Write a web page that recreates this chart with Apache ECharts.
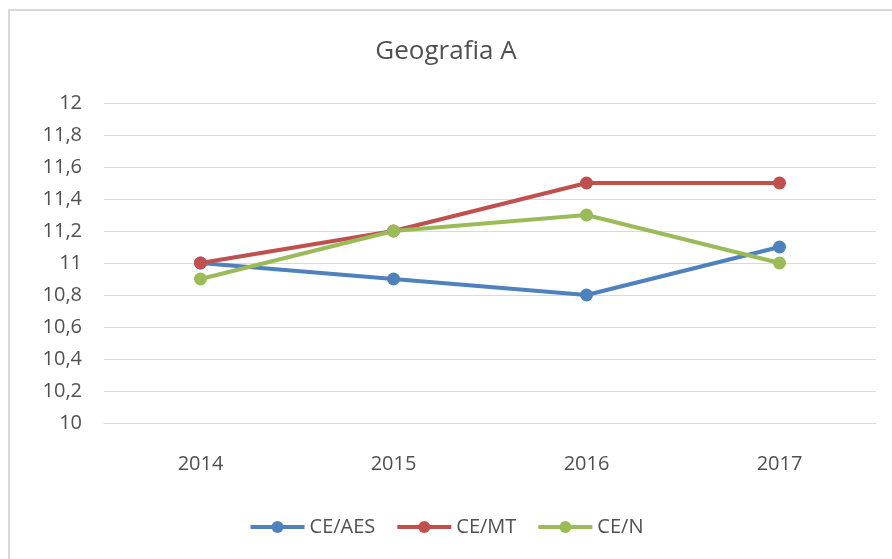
<!DOCTYPE html>
<html>
<head>
<meta charset="utf-8">
<script src="https://cdn.jsdelivr.net/npm/echarts@6/dist/echarts.min.js"></script>
<style>
  html, body { margin: 0; padding: 0; background: #fff; }
  #frame { position: absolute; left: 8px; top: 9px; width: 900px; height: 560px; border: 2px solid #d9d9d9; box-sizing: border-box; }
  #chart { position: absolute; left: 0; top: 0; width: 892px; height: 559px; }
</style>
</head>
<body>
<div id="frame"></div>
<div id="chart"></div>
<script>
// anni e serie
var years = ['2014', '2015', '2016', '2017'];
var ceAes = [11, 10.9, 10.8, 11.1];
var ceMt = [11, 11.2, 11.5, 11.5];
var ceN = [10.9, 11.2, 11.3, 11.0];

var chart = echarts.init(document.getElementById('chart'));

function makeSeries(name, data, color) {
    return {
        name: name,
        type: 'line',
        data: data,
        symbol: 'circle',
        symbolSize: 13,
        lineStyle: { width: 4, color: color },
        itemStyle: { color: color },
        emphasis: { disabled: true }
    };
}

var option = {
    backgroundColor: 'transparent',
    animation: false,
    textStyle: { fontFamily: 'Open Sans' },
    title: {
        text: 'Geografia A',
        left: 'center',
        top: 34,
        textStyle: { fontSize: 26, fontWeight: 'normal', color: '#505050', fontFamily: 'Open Sans' }
    },
    legend: {
        bottom: 17,
        left: 'center',
        itemWidth: 54,
        itemHeight: 15,
        itemGap: 20,
        lineStyle: { width: 4 },
        textStyle: { fontSize: 20, color: '#505050' },
        data: ['CE/AES', 'CE/MT', 'CE/N']
    },
    grid: { left: 104, right: 16, top: 103, bottom: 136 },
    xAxis: {
        type: 'category',
        data: years,
        axisLine: { lineStyle: { color: '#d9d9d9', width: 1 } },
        axisTick: { show: false },
        axisLabel: { fontSize: 20, color: '#505050', margin: 31 }
    },
    yAxis: {
        type: 'value',
        min: 10,
        max: 12,
        interval: 0.2,
        axisLine: { show: false },
        axisTick: { show: false },
        splitLine: { lineStyle: { color: '#d9d9d9', width: 1 } },
        axisLabel: {
            fontSize: 20,
            color: '#505050',
            margin: 22,
            formatter: function (v) {
                return String(parseFloat(v.toFixed(1))).replace('.', ',');
            }
        }
    },
    series: [
        makeSeries('CE/AES', ceAes, '#4f81bd'),
        makeSeries('CE/MT', ceMt, '#c0504d'),
        makeSeries('CE/N', ceN, '#9bbb59')
    ]
};

chart.setOption(option);
</script>
</body>
</html>
